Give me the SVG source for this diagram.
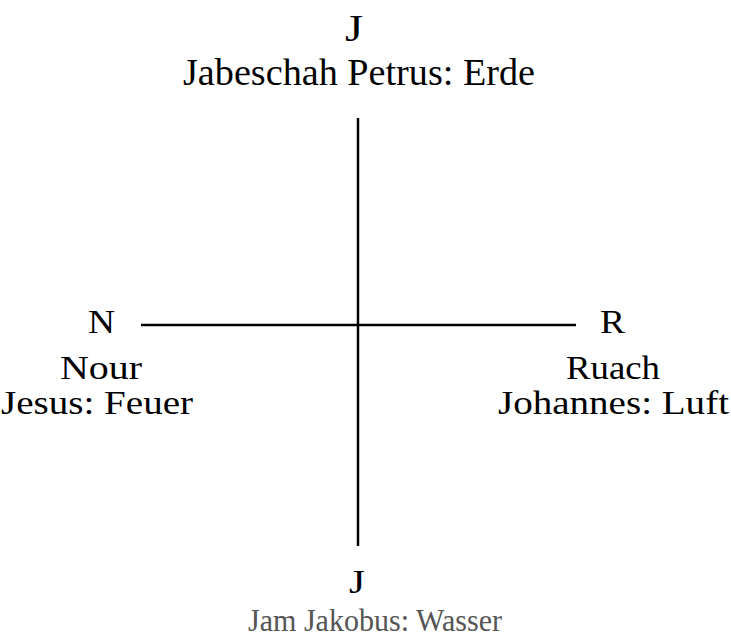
<svg xmlns="http://www.w3.org/2000/svg" width="731" height="639" viewBox="0 0 731 639">
<style>
text{font-family:"Liberation Serif","Times New Roman",serif;font-size:33px;fill:#000}
.big{font-size:37px}
.g{fill:#555;font-size:31px}
.ln{stroke:#000;stroke-width:2.5;fill:none}
</style>
<rect width="731" height="639" fill="#fff"/>
<g id="connectors">
<line class="ln" x1="358" y1="118" x2="358" y2="546"/>
<line class="ln" x1="141" y1="325" x2="576" y2="325"/>
</g>
<g id="node-top">
<text class="big" x="345" y="41" textLength="18" lengthAdjust="spacingAndGlyphs">J</text>
<text class="big" x="183" y="85" textLength="352" lengthAdjust="spacingAndGlyphs">Jabeschah Petrus: Erde</text>
</g>
<g id="node-left">
<text x="88" y="333" textLength="27" lengthAdjust="spacingAndGlyphs">N</text>
<text x="60" y="379" textLength="82" lengthAdjust="spacingAndGlyphs">Nour</text>
<text x="1" y="414" textLength="192" lengthAdjust="spacingAndGlyphs">Jesus: Feuer</text>
</g>
<g id="node-right">
<text x="600" y="333" textLength="25" lengthAdjust="spacingAndGlyphs">R</text>
<text x="566" y="379" textLength="94" lengthAdjust="spacingAndGlyphs">Ruach</text>
<text x="498" y="414" textLength="231" lengthAdjust="spacingAndGlyphs">Johannes: Luft</text>
</g>
<g id="node-bottom">
<text x="349" y="593" textLength="16" lengthAdjust="spacingAndGlyphs">J</text>
<text class="g" x="248" y="631" textLength="254" lengthAdjust="spacingAndGlyphs">Jam Jakobus: Wasser</text>
</g>
</svg>
